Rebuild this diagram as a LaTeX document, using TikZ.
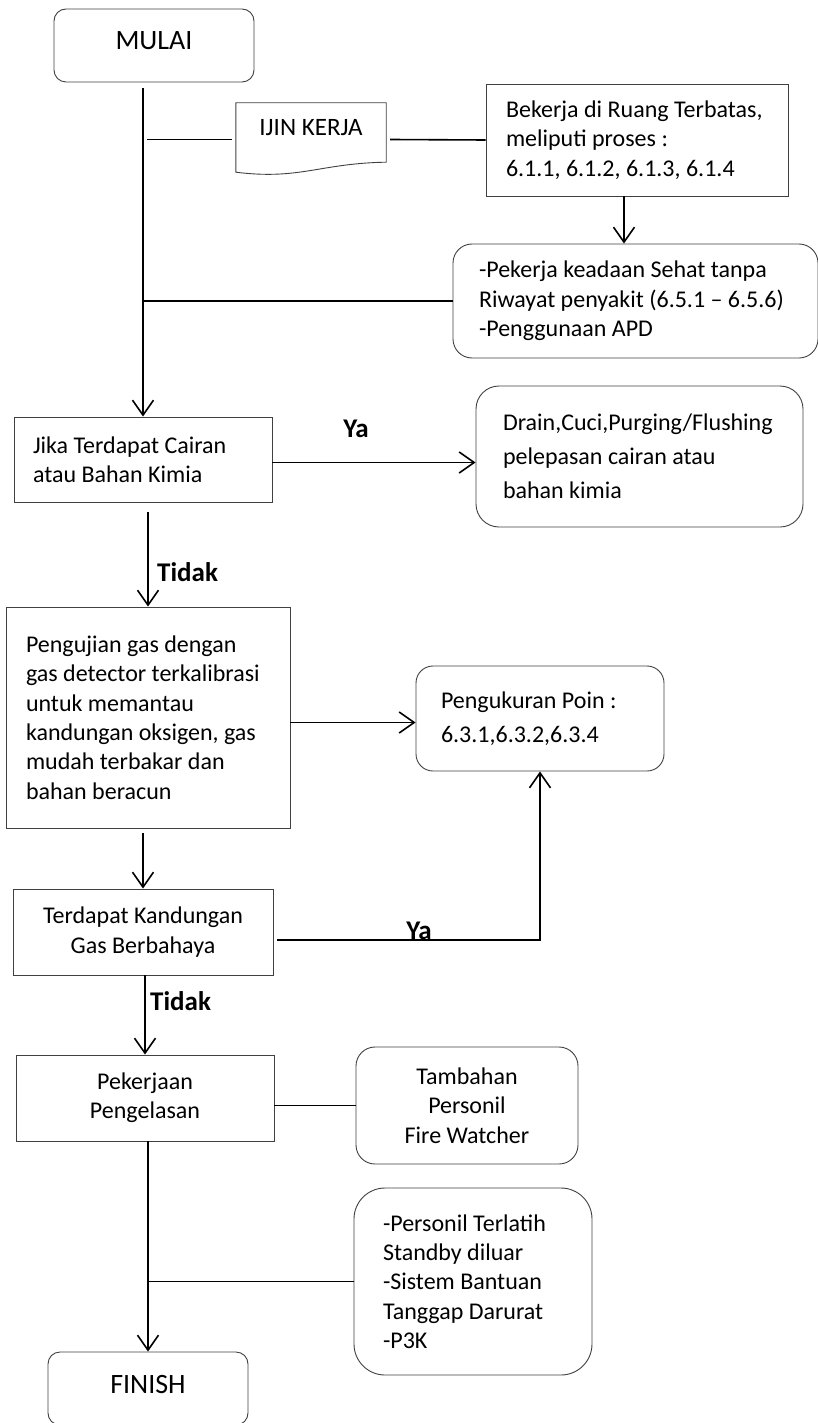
\documentclass[tikz,border=0pt]{standalone}
\usepackage{fontspec}
\setmainfont{Carlito}
\usetikzlibrary{arrows.meta,calc}

\newcommand{\flowtext}{\fontsize{24}{29.3}\selectfont}
\newcommand{\flowwide}{\fontsize{24}{34}\selectfont}
\newcommand{\flowend}{\fontsize{28}{34}\selectfont}
\newcommand{\flowlabel}{\fontsize{27}{32}\selectfont\bfseries}

\begin{document}
\begin{tikzpicture}[x=1pt, y=-1pt,
  stepbox/.style={draw=black!75, line width=0.9pt, inner sep=0pt, font=\flowtext},
  roundbox/.style={stepbox, rounded corners=#1},
  endbox/.style={roundbox=12pt, minimum width=200pt, minimum height=73pt, font=\flowend, text height=18pt, text depth=9pt},
  link/.style={line width=1.6pt},
  arr/.style={link, -{Straight Barb[length=15pt,width=21pt]}},
  answer/.style={font=\flowlabel, inner sep=0pt}]
  \useasboundingbox (0,0) rectangle (818,1423);

  % Start and work permit
  \node[endbox] (mulai) at (154,45.5) {MULAI};
  \node[minimum width=150pt, minimum height=59pt, inner sep=0pt, font=\fontsize{25}{30}\selectfont,
    text height=16pt, text depth=10pt] (ijin) at (311,132.5) {IJIN KERJA};
  \draw[black!75, line width=0.9pt] (ijin.north west) -- (ijin.north east) -- (ijin.south east)
    .. controls ($(ijin.south east)+(-66,1)$) and ($(ijin.south west)+(64,18)$) .. ($(ijin.south west)+(0,10)$) -- cycle;
  \node[stepbox, minimum width=302pt, minimum height=112pt, text width=262pt, align=flush left] (bekerja) at (637,140)
    {Bekerja di Ruang Terbatas,\\ meliputi proses :\\ 6.1.1, 6.1.2, 6.1.3, 6.1.4};
  \node[roundbox=19pt, minimum width=365pt, minimum height=114pt, text width=313pt, align=flush left] (pekerja) at (635.5,301)
    {-Pekerja keadaan Sehat tanpa\\ Riwayat penyakit (6.5.1 -- 6.5.6)\\ -Penggunaan APD};

  % Liquid / chemical check
  \node[stepbox, minimum width=258pt, minimum height=85pt, text width=220pt, align=flush left] (jika) at (143,459.5)
    {Jika Terdapat Cairan\\ atau Bahan Kimia};
  \node[roundbox=23pt, minimum width=327pt, minimum height=141pt, text width=273pt, align=flush left, font=\flowwide] (drain) at (639.5,456.5)
    {Drain,Cuci,Purging/Flushing\\ pelepasan cairan atau\\ bahan kimia};

  % Gas testing
  \node[stepbox, minimum width=284pt, minimum height=221pt, text width=244pt, align=flush left] (pengujian) at (148,717.5)
    {Pengujian gas dengan\\ gas detector terkalibrasi\\ untuk memantau\\ kandungan oksigen, gas\\ mudah terbakar dan\\ bahan beracun};
  \node[roundbox=17pt, minimum width=248pt, minimum height=105pt, text width=198pt, align=flush left, font=\flowwide] (pengukuran) at (540,718.5)
    {Pengukuran Poin :\\ 6.3.1,6.3.2,6.3.4};
  \node[stepbox, minimum width=260pt, minimum height=86pt, align=center] (terdapat) at (143,932)
    {Terdapat Kandungan\\ Gas Berbahaya};

  % Welding and finish
  \node[stepbox, minimum width=258pt, minimum height=86pt, align=center] (pekerjaan) at (145,1098)
    {Pekerjaan\\ Pengelasan};
  \node[roundbox=19pt, minimum width=222pt, minimum height=117pt, align=center] (tambahan) at (467,1105.5)
    {Tambahan\\ Personil\\ Fire Watcher};
  \node[roundbox=31pt, minimum width=238pt, minimum height=187pt, text width=180pt, align=flush left] (personil) at (473,1281.5)
    {-Personil Terlatih\\ Standby diluar\\ -Sistem Bantuan\\ Tanggap Darurat\\ -P3K};
  \node[endbox] (finish) at (148,1388.5) {FINISH};

  % Answer labels
  \node[answer, anchor=base] (ya1) at (356,437) {Ya};
  \node[answer, anchor=base west] (tidak1) at (157,581) {Tidak};
  \node[answer, anchor=base] (ya2) at (419,939) {Ya};
  \node[answer, anchor=base west] (tidak2) at (150,1010) {Tidak};

  % Main line and side links
  \draw[arr] ($(mulai.south -| jika.north)+(0,6)$) -- (jika.north);
  \draw[link] ($(ijin.west -| jika.north)+(4,7)$) -- ($(ijin.west)+(-4,7)$);
  \draw[link] ($(ijin.east)+(4,7)$) -- (bekerja.west);
  \draw[arr] ($(bekerja.south)+(-13,0)$) -- ($(bekerja.south |- pekerja.north)+(-13,0)$);
  \draw[link] (pekerja.west -| jika.north) -- (pekerja.west);

  % Decisions
  \draw[arr] ($(jika.east)+(0,3)$) -- ($(jika.east -| drain.west)+(0,3)$);
  \draw[arr] ($(jika.south -| pengujian.north)+(0,10)$) -- (pengujian.north);
  \draw[arr] ($(pengujian.east)+(0,5)$) -- ($(pengujian.east -| pengukuran.west)+(0,5)$);
  \draw[arr] ($(pengujian.south -| terdapat.north)+(0,5)$) -- (terdapat.north);
  \draw[arr] ($(terdapat.east)+(4,8)$) -| (pengukuran.south);
  \draw[arr] (terdapat.south -| pekerjaan.north) -- (pekerjaan.north);

  % Welding branch
  \draw[link] (pekerjaan.east |- tambahan.west) -- (tambahan.west);
  \draw[arr] (pekerjaan.south -| finish.north) -- (finish.north);
  \draw[link] (personil.west -| finish.north) -- (personil.west);
\end{tikzpicture}
\end{document}
